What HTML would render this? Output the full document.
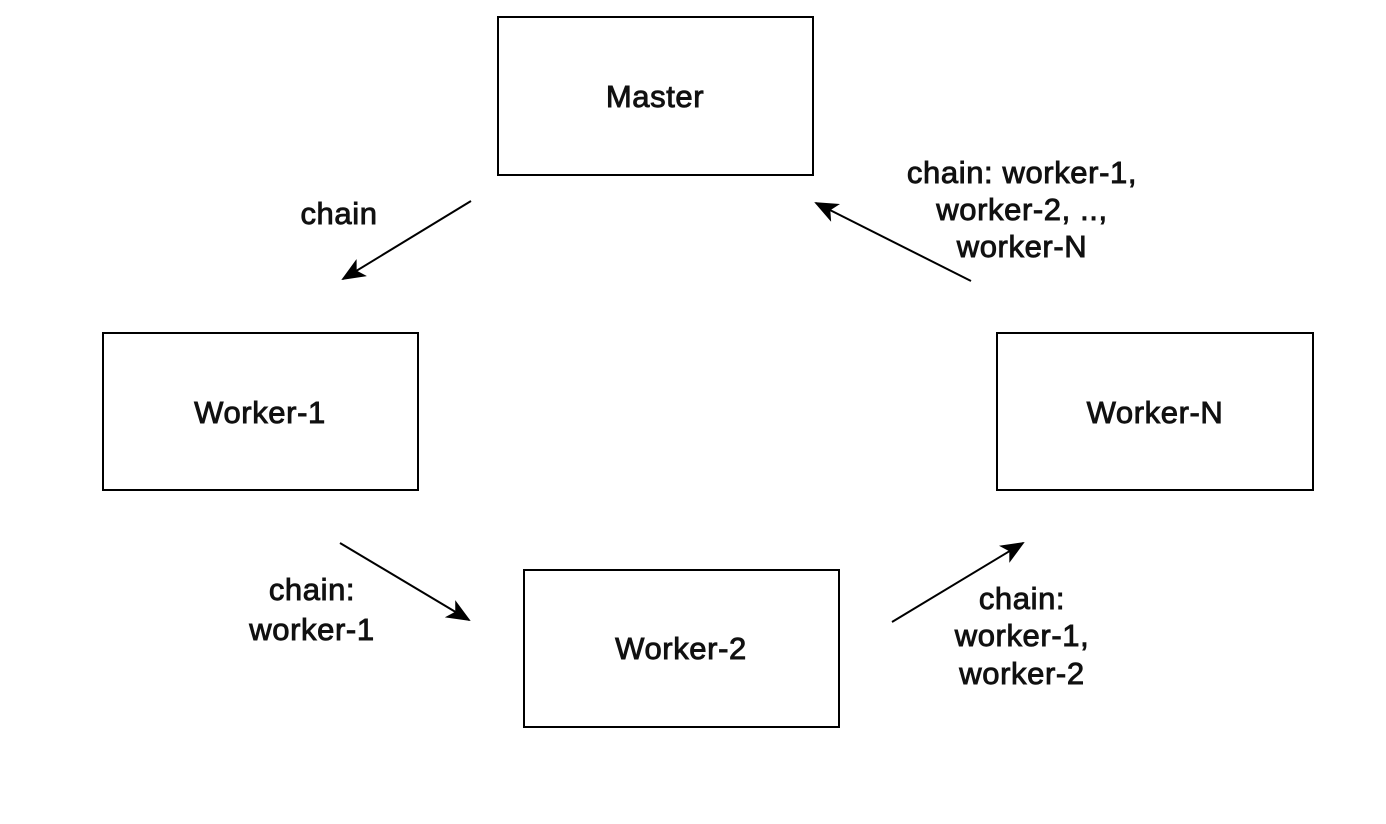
<!DOCTYPE html>
<html><head><meta charset="utf-8"><style>
html,body{margin:0;padding:0;background:#fff;}
svg{display:block}
text{font-family:"Liberation Sans",Arial,sans-serif;font-size:31px;fill:#111;text-anchor:middle;stroke:#111;stroke-width:0.9;letter-spacing:0.6px}
</style></head><body>
<svg width="1386" height="824" viewBox="0 0 1386 824" xmlns="http://www.w3.org/2000/svg">
<defs>
<marker id="b" viewBox="0 0 12 10" markerWidth="24" markerHeight="20" refX="11" refY="5" orient="auto" markerUnits="userSpaceOnUse">
<path d="M0,0 L12,5 L0,10 L3,5 Z" fill="#000"/>
</marker>
</defs>
<g fill="#fff" stroke="#000" stroke-width="2">
<rect x="498" y="17" width="315" height="158"/>
<rect x="103" y="333" width="315" height="157"/>
<rect x="997" y="333" width="316" height="157"/>
<rect x="524" y="570" width="315" height="157"/>
</g>
<g stroke="#000" stroke-width="2" fill="none">
<line x1="471" y1="201" x2="343" y2="279" marker-end="url(#b)"/>
<line x1="340" y1="543" x2="469" y2="620" marker-end="url(#b)"/>
<line x1="892" y1="622" x2="1023" y2="543" marker-end="url(#b)"/>
<line x1="971" y1="281" x2="816" y2="203" marker-end="url(#b)"/>
</g>
<text x="655" y="107">Master</text>
<text x="260" y="423">Worker-1</text>
<text x="1155" y="423">Worker-N</text>
<text x="681" y="659">Worker-2</text>
<text x="339" y="224">chain</text>
<text x="1022" y="183">chain: worker-1,</text>
<text x="1022" y="220">worker-2, ..,</text>
<text x="1022" y="257">worker-N</text>
<text x="312" y="600">chain:</text>
<text x="312" y="640">worker-1</text>
<text x="1022" y="609">chain:</text>
<text x="1022" y="646">worker-1,</text>
<text x="1022" y="684">worker-2</text>
</svg>
</body></html>
